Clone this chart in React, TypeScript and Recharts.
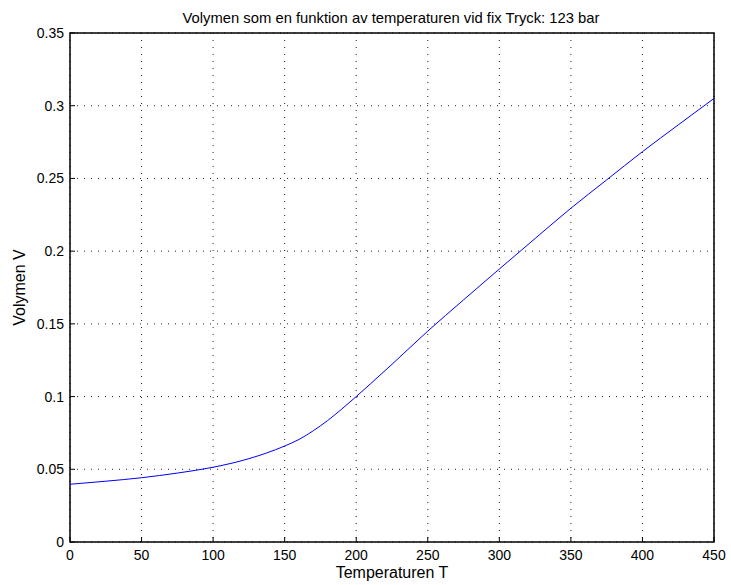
import { LineChart, Line, XAxis, YAxis, CartesianGrid, ReferenceArea } from 'recharts'

// Temperatur (T) och volym (V)
const temperatur = [0, 25, 50, 75, 100, 125, 150, 160, 170, 180, 190, 200, 210, 225, 250, 275, 300, 325, 350, 375, 400, 425, 450]
const volym = [0.0397, 0.0418, 0.0442, 0.0474, 0.0514, 0.0573, 0.066, 0.0705, 0.0765, 0.0835, 0.0915, 0.1, 0.1088, 0.1222, 0.145, 0.1665, 0.1877, 0.2087, 0.2295, 0.249, 0.2684, 0.2868, 0.305]

const xTicks = [0, 50, 100, 150, 200, 250, 300, 350, 400, 450]
const yTicks = [0, 0.05, 0.1, 0.15, 0.2, 0.25, 0.3, 0.35]

const FONT = '"Liberation Sans", Arial, Helvetica, sans-serif'
const labelStyle = { fontSize: 16, fill: '#000', fontFamily: FONT }
const TICK_LEN = 5

const data = temperatur.map((t, i) => ({ t, v: volym[i] }))

// MATLAB-liknande ticks: korta streck inåt i ramen, etikett utanför
function BottomTick({ x, y, payload }: any) {
  return (
    <g>
      <line x1={x} y1={y} x2={x} y2={y - TICK_LEN} stroke="#000" />
      <text x={x} y={y + 18} textAnchor="middle" fontSize={14} fontFamily={FONT} fill="#000">{payload.value}</text>
    </g>
  )
}
function LeftTick({ x, y, payload }: any) {
  return (
    <g>
      <line x1={x} y1={y} x2={x + TICK_LEN} y2={y} stroke="#000" />
      <text x={x - 6} y={y + 5} textAnchor="end" fontSize={14} fontFamily={FONT} fill="#000">{payload.value}</text>
    </g>
  )
}
function TopTick({ x, y }: any) {
  return <line x1={x} y1={y} x2={x} y2={y + TICK_LEN} stroke="#000" />
}
function RightTick({ x, y }: any) {
  return <line x1={x} y1={y} x2={x - TICK_LEN} y2={y} stroke="#000" />
}

export default function App() {
  return (
    <div style={{ position: 'absolute', left: 0, top: 0, width: 731, height: 585, background: '#fff', fontFamily: FONT }}>
      <div style={{ position: 'absolute', left: 69, width: 644, top: 10, textAlign: 'center', fontSize: 14.8, lineHeight: '17px', color: '#000', whiteSpace: 'nowrap' }}>
        Volymen som en funktion av temperaturen vid fix Tryck: 123 bar
      </div>
      <LineChart width={731} height={585} data={data} margin={{ top: 33, right: 17, bottom: 0, left: 0 }}>
        <CartesianGrid stroke="#222" strokeDasharray="1 6" />
        <XAxis
          dataKey="t" type="number" domain={[0, 450]} ticks={xTicks} interval={0}
          height={43} axisLine={false} tickLine={false} tickSize={0} tickMargin={0} tick={<BottomTick />}
          label={{ value: 'Temperaturen T', position: 'insideBottom', offset: 7, style: labelStyle }}
        />
        <XAxis
          xAxisId="top" orientation="top" dataKey="t" type="number" domain={[0, 450]} ticks={xTicks} interval={0}
          height={0} axisLine={false} tickLine={false} tickSize={0} tickMargin={0} tick={<TopTick />}
        />
        <YAxis
          type="number" domain={[0, 0.35]} ticks={yTicks} interval={0}
          width={70} axisLine={false} tickLine={false} tickSize={0} tickMargin={0} tick={<LeftTick />}
          label={{ value: 'Volymen V', angle: -90, position: 'insideLeft', offset: 19, style: { ...labelStyle, textAnchor: 'middle' } }}
        />
        <YAxis
          yAxisId="right" orientation="right" type="number" domain={[0, 0.35]} ticks={yTicks} interval={0}
          width={0} axisLine={false} tickLine={false} tickSize={0} tickMargin={0} tick={<RightTick />}
        />
        <ReferenceArea x1={0} x2={450} y1={0} y2={0.35} fill="none" fillOpacity={0} stroke="#000" strokeWidth={1.5} ifOverflow="visible" />
        <Line type="monotone" dataKey="v" stroke="#0000ff" strokeWidth={1} dot={false} isAnimationActive={false} />
      </LineChart>
    </div>
  )
}
